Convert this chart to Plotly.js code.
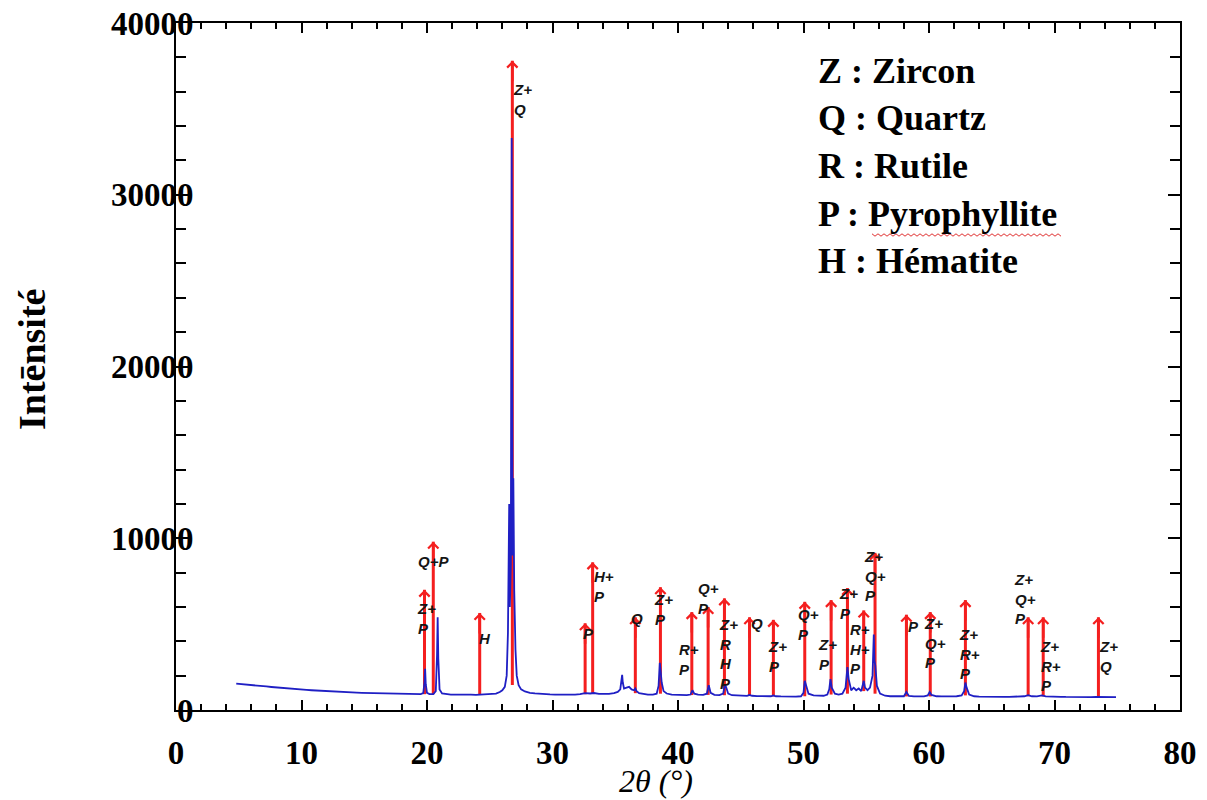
<!DOCTYPE html>
<html><head><meta charset="utf-8">
<script src="https://cdn.plot.ly/plotly-3.0.1.min.js"></script>
<style>html,body{margin:0;padding:0;background:#fff}#chart{width:1207px;height:800px}</style>
</head><body><div id="chart"></div>
<script>
// ---- data ----
const twoTheta = [4.8,5.2,5.6,6.0,6.4,6.8,7.2,7.6,8.0,8.4,8.8,9.2,9.6,10.0,10.4,10.8,11.2,11.6,12.0,12.4,12.8,13.2,13.6,14.0,14.4,14.8,15.2,15.6,16.0,16.4,16.8,17.2,17.6,18.0,18.4,18.8,19.2,19.5,19.7,19.8,19.85,19.9,20.0,20.2,20.5,20.7,20.8,20.85,20.9,21.0,21.2,21.5,21.9,22.3,22.7,23.1,23.5,23.9,24.3,24.7,25.1,25.5,25.8,26.0,26.2,26.35,26.45,26.55,26.6,26.68,26.75,26.82,26.88,26.95,27.05,27.15,27.3,27.5,27.8,28.2,28.6,29.0,29.4,29.8,30.2,30.6,31.0,31.4,31.8,32.2,32.6,33.0,33.3,33.7,34.1,34.5,34.9,35.2,35.4,35.5,35.55,35.6,35.7,35.9,36.1,36.3,36.5,36.6,36.7,36.9,37.2,37.6,38.0,38.3,38.45,38.55,38.6,38.7,38.85,39.1,39.5,39.9,40.3,40.7,41.0,41.15,41.3,41.6,42.0,42.3,42.45,42.6,42.9,43.3,43.6,43.75,43.85,44.0,44.3,44.7,45.1,45.5,45.7,45.9,46.3,46.7,47.1,47.4,47.6,47.8,48.2,48.6,49.0,49.4,49.8,50.0,50.1,50.2,50.4,50.8,51.2,51.6,51.9,52.05,52.15,52.25,52.5,52.8,53.1,53.35,53.5,53.6,53.8,54.0,54.2,54.4,54.6,54.8,54.9,55.1,55.3,55.5,55.6,55.65,55.72,55.85,56.1,56.5,56.9,57.3,57.7,58.0,58.2,58.4,58.8,59.2,59.6,59.9,60.05,60.2,60.6,61.0,61.4,61.8,62.2,62.6,62.8,62.9,63.0,63.2,63.6,64.0,64.4,64.8,65.2,65.6,66.0,66.4,66.8,67.2,67.6,67.9,68.2,68.6,69.0,69.3,69.7,70.1,70.5,70.9,71.3,71.7,72.1,72.5,72.9,73.3,73.7,74.1,74.5,74.9];
const intensity = [1530,1510,1480,1450,1430,1390,1370,1340,1310,1290,1260,1240,1210,1190,1170,1150,1130,1120,1100,1080,1070,1050,1040,1030,1010,1000,990,980,970,960,950,940,930,930,920,910,910,920,980,1600,2400,1500,1000,930,920,1100,3200,5400,3000,1200,960,920,900,890,900,880,890,880,890,900,910,950,1050,1150,1350,2000,4500,12000,6000,8500,33300,9000,13500,7000,3500,2000,1450,1200,1080,1000,970,940,920,910,900,890,900,890,900,920,980,960,990,940,930,940,980,1050,1200,1700,2050,1600,1250,1300,1350,1200,1150,1250,1100,980,930,900,900,950,1400,2750,2400,1600,1100,960,900,880,870,870,900,1150,950,890,880,950,1450,1000,880,870,950,1500,1300,950,860,840,830,820,880,830,810,800,790,800,850,800,790,780,790,780,800,1000,1700,1400,950,850,820,830,900,1200,1800,1300,950,900,950,1300,2500,1800,1150,1300,1150,1250,1100,1700,1300,1150,1300,2000,4400,2900,2600,1400,950,830,800,790,790,800,1050,820,790,780,790,850,1050,880,800,790,780,790,800,850,1100,1600,1300,900,800,780,770,780,770,770,760,770,770,780,800,860,800,790,850,790,770,760,770,760,750,760,750,760,750,760,750,750,740,750];

// identified phases: arrow position (2θ), arrow tip intensity, label
const peakPositions = [19.8,20.5,24.2,26.8,32.6,33.2,36.6,38.6,41.1,42.4,43.7,45.7,47.6,50.1,52.2,53.5,54.8,55.7,58.2,60.1,62.9,67.9,69.1,73.5];
const peakTips = [7000,9800,5650,37800,5050,8600,5400,7150,5700,6000,6500,5400,5250,6300,6400,7100,5800,9150,5550,5700,6400,5400,5400,5400];
const peakLabels = ['Z+<br>P','Q+P','H','Z+<br>Q','P','H+<br>P','Q','Z+<br>P','R+<br>P','Q+<br>P','Z+<br>R<br>H<br>P','Q','Z+<br>P','Q+<br>P','Z+<br>P','Z+<br>P','R+<br>H+<br>P','Z+<br>Q+<br>P','P','Z+<br>Q+<br>P','Z+<br>R+<br>P','Z+<br>Q+<br>P','Z+<br>R+<br>P','Z+<br>Q'];

const legendItems = ['Z : Zircon','Q : Quartz','R : Rutile','P : Pyrophyllite','H : Hématite'];

const xTitle = '2θ (°)';
const yTitle = 'Intēnsité';

// ---- layout helpers (pixel offsets of labels relative to arrow tips) ----
const labelOffsets = [[-8,12],[-16,13],[-2,19],[0,22],[-3,4],[0,8],[-5,-5],[-7,6],[-14,31],[-11,-25],[-6,20],[0,0],[-6,20],[-8,6],[-14,38],[-9,-1],[-15,13],[-12,-3],[1,5],[-7,5],[-7,28],[-15,-44],[-4,23],[0,23]];

const RED = '#f41f1f';
const BLUE = '#1f1fc4';

function localBase(x0){
  let m = Infinity;
  for (let i = 0; i < twoTheta.length; i++) {
    if (Math.abs(twoTheta[i] - x0) <= 0.6) m = Math.min(m, intensity[i]);
  }
  return m;
}

const lineX = [], lineY = [];
peakPositions.forEach((x, i) => { lineX.push(x, x, null); lineY.push(localBase(x), peakTips[i], null); });

const traces = [
  {x: lineX, y: lineY, mode: 'lines', line: {color: RED, width: 3}, hoverinfo: 'skip', showlegend: false, connectgaps: false},
  {x: twoTheta, y: intensity, mode: 'lines', line: {color: BLUE, width: 1.8}, name: 'XRD', showlegend: false}
];

const plotL = 176, plotR = 1180, plotT = 23, plotB = 710;
const pw = plotR - plotL, ph = plotB - plotT;

const annotations = [];
peakPositions.forEach((x, i) => {
  annotations.push({x: x, y: peakTips[i], xref: 'x', yref: 'y', text: '', showarrow: true,
    ax: 0, ay: 22, arrowhead: 4, arrowsize: 0.8, arrowwidth: 2.5, arrowcolor: RED, standoff: 0});
});
peakPositions.forEach((x, i) => {
  annotations.push({x: x, y: peakTips[i], xref: 'x', yref: 'y', text: peakLabels[i], showarrow: false,
    xanchor: 'left', yanchor: 'top', align: 'left',
    xshift: labelOffsets[i][0] - 1, yshift: -(labelOffsets[i][1] - 4),
    font: {family: 'Liberation Sans, Arial, sans-serif', size: 15, weight: 'bold', style: 'italic', color: '#151515'}});
});

// x-axis title (below the tick labels)
annotations.push({xref: 'paper', yref: 'paper', x: (656 - plotL) / pw, y: (plotB - 781) / ph,
  xanchor: 'center', yanchor: 'middle', text: xTitle, showarrow: false,
  font: {family: 'Liberation Serif, Times New Roman, serif', size: 32, style: 'italic', color: '#000'}});

// y-axis title (rotated)
annotations.push({xref: 'paper', yref: 'paper', x: (32 - plotL) / pw, y: (plotB - 360) / ph,
  xanchor: 'center', yanchor: 'middle', textangle: -90, text: yTitle, showarrow: false,
  font: {family: 'Liberation Serif, Times New Roman, serif', size: 38, weight: 'bold', color: '#000'}});

// legend text block (top right)
legendItems.forEach((t, i) => {
  const baseline = 85 + i * 47.5;
  const cy = baseline - 14;
  annotations.push({xref: 'paper', yref: 'paper', x: (816 - plotL) / pw, y: (plotB - cy) / ph,
    xanchor: 'left', yanchor: 'middle', text: t, showarrow: false,
    font: {family: 'Liberation Serif, Times New Roman, serif', size: 36, weight: 'bold', color: '#000'}});
});

// red wavy spell-check underline under "Pyrophyllite"
let wave = '';
for (let px = 872, k = 0; px <= 1062; px += 3, k++) {
  const py = 235 + (k % 2 === 0 ? -1.2 : 1.2);
  wave += (k === 0 ? 'M' : 'L') + ((px - plotL) / pw).toFixed(5) + ',' + ((plotB - py) / ph).toFixed(5);
}

const axisFont = {family: 'Liberation Serif, Times New Roman, serif', size: 33, weight: 'bold', color: '#000'};

const layout = {
  width: 1207, height: 800,
  margin: {l: plotL, r: 1207 - plotR, t: plotT, b: 800 - plotB},
  paper_bgcolor: '#fff', plot_bgcolor: '#fff',
  showlegend: false,
  xaxis: {
    range: [0, 80], dtick: 10, tick0: 0, showgrid: false, zeroline: false,
    showline: true, linecolor: '#000', linewidth: 2, mirror: 'allticks',
    ticks: 'inside', ticklen: 10, tickwidth: 2, tickcolor: '#000',
    minor: {dtick: 2, ticks: 'inside', ticklen: 6, tickwidth: 1.5, tickcolor: '#000', showgrid: false},
    tickfont: axisFont, ticklabelstandoff: 12
  },
  yaxis: {
    range: [0, 40000], dtick: 10000, tick0: 0, tickformat: 'd', showgrid: false, zeroline: false,
    showline: true, linecolor: '#000', linewidth: 2, mirror: 'allticks',
    ticks: 'inside', ticklen: 12, tickwidth: 2, tickcolor: '#000',
    minor: {dtick: 2000, ticks: 'inside', ticklen: 10, tickwidth: 1.5, tickcolor: '#000', showgrid: false},
    tickfont: axisFont, ticklabelstandoff: -26
  },
  annotations: annotations,
  shapes: [{type: 'path', xref: 'paper', yref: 'paper', path: wave, line: {color: '#e03030', width: 1}}]
};

Plotly.newPlot('chart', traces, layout, {displayModeBar: false, responsive: false});
</script>
</body></html>
